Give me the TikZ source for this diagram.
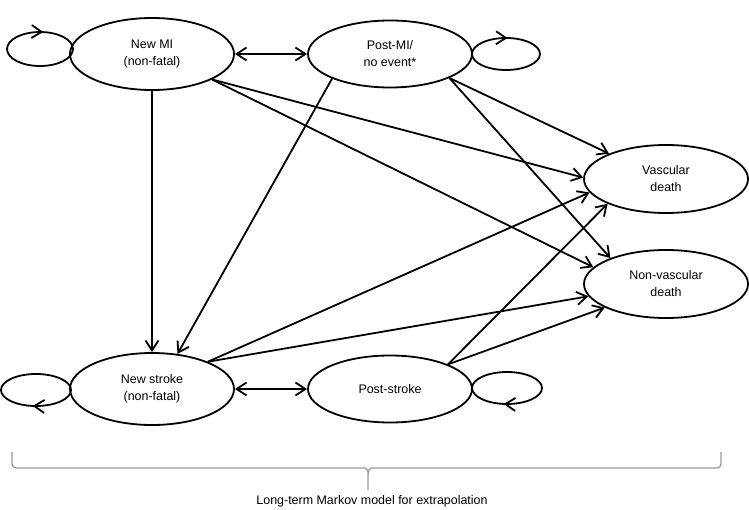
\documentclass[tikz,border=0pt]{standalone}
\usepackage{fontspec}
\setmainfont{Liberation Sans}
\usetikzlibrary{shapes.geometric,arrows.meta,decorations.markings}

\begin{document}
\begin{tikzpicture}[x=1bp,y=-1bp,line width=1.8bp,
    every node/.style={font=\fontsize{12.5}{17}\selectfont},
    state/.style={draw,ellipse,align=center,inner sep=0pt,
        minimum width=164bp,minimum height=68bp},
    trans/.style={-{Straight Barb[length=10bp,width=13bp]}},
    twoway/.style={{Straight Barb[length=10bp,width=13bp]}-{Straight Barb[length=10bp,width=13bp]}},
    selfloop/.style={postaction={decorate},decoration={markings,
        mark=at position #1 with {\arrow{Straight Barb[length=10bp,width=13bp]}}}},
    bracket/.style={draw=black!40,line width=1.3bp,rounded corners=4bp}]
    \useasboundingbox (0,0) rectangle (749,510);
    % states
    \node[state,minimum height=72bp] (newmi) at (152,54) {New MI\\(non-fatal)};
    \node[state,minimum height=67bp] (postmi) at (390,54) {Post-MI/\\no event*};
    \node[state] (vasc) at (666,179) {Vascular\\death};
    \node[state] (nonvasc) at (666,284) {Non-vascular\\death};
    \node[state,minimum height=72bp] (newstroke) at (152,389) {New stroke\\(non-fatal)};
    \node[state,minimum height=67bp] (poststroke) at (390,389) {Post-stroke};
    % staying in the same state
    \draw[selfloop=0.77] (40,49) ellipse [x radius=33, y radius=17];
    \draw[selfloop=0.76] (506,54) ellipse [x radius=34, y radius=16];
    \draw[selfloop=0.27] (36,390) ellipse [x radius=35, y radius=16];
    \draw[selfloop=0.27] (507,388) ellipse [x radius=35, y radius=16];
    % transitions
    \draw[twoway] (newmi.east) -- (postmi.west);
    \draw[twoway] (newstroke.east) -- (poststroke.west);
    \draw[trans] (newmi.south) -- (newstroke.north);
    \draw[trans] (postmi.-157) -- (newstroke.54);
    \draw[trans] (newmi.-23) -- (vasc.179);
    \draw[trans] (newmi.-23) -- (nonvasc.167);
    \draw[trans] (postmi.-22) -- (vasc.156);
    \draw[trans] (postmi.-22) -- (nonvasc.155);
    \draw[trans] (newstroke.26) -- (vasc.190);
    \draw[trans] (newstroke.26) -- (nonvasc.189);
    \draw[trans] (poststroke.23) -- (vasc.203);
    \draw[trans] (poststroke.23) -- (nonvasc.201);
    % brace
    \draw[bracket] (12,452) |- (361,468) .. controls (366,468) and (368,470) .. (368,476) -- (368,490)
        (368,476) .. controls (368,470) and (370,468) .. (375,468) -| (721,452);
    \node (caption) at (372,501) {Long-term Markov model for extrapolation};
\end{tikzpicture}
\end{document}
